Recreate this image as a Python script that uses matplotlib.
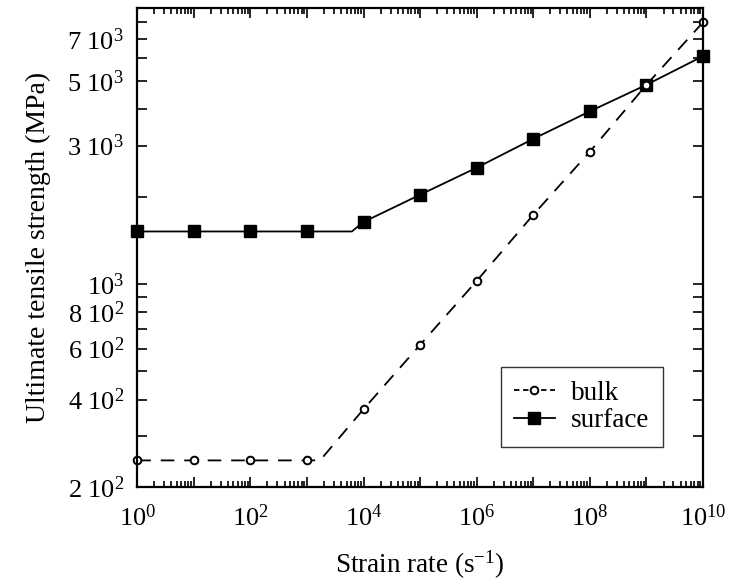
import numpy as np
import matplotlib
matplotlib.use("Agg")
import matplotlib.pyplot as plt
from matplotlib.ticker import FixedLocator, FixedFormatter, LogLocator, NullFormatter

plt.rcParams["font.family"] = ["Liberation Serif", "DejaVu Serif"]
plt.rcParams["mathtext.fontset"] = "custom"
plt.rcParams["mathtext.rm"] = "Liberation Serif"
plt.rcParams["mathtext.it"] = "Liberation Serif:italic"

# strain rate at each decade (1/s)
rate = [1e0, 1e1, 1e2, 1e3, 1e4, 1e5, 1e6, 1e7, 1e8, 1e9, 1e10]
bulk = [247, 247, 247, 247, 371, 618, 1026, 1734, 2860, 4860, 7980]
surface = [1518, 1518, 1518, 1518, 1637, 2032, 2518, 3165, 3937, 4860, 6100]

# strain rates where the rate-independent plateau ends
bulk_knee = 1.7e3
surface_knee = 6.2e3

ytick_vals = [200, 300, 400, 500, 600, 700, 800, 900,
              1000, 2000, 3000, 4000, 5000, 6000, 7000, 8000, 9000]
ytick_text = {200: "2 10$^2$", 400: "4 10$^2$", 600: "6 10$^2$", 800: "8 10$^2$",
              1000: "10$^3$", 3000: "3 10$^3$", 5000: "5 10$^3$", 7000: "7 10$^3$"}


def with_knee(x, y, knee):
    # plateau up to the knee, then the power-law branch through the points
    x = np.asarray(x, float)
    y = np.asarray(y, float)
    flat = y[0]
    xs = [xi for xi in x if xi < knee]
    ys = [flat] * len(xs)
    xs.append(knee)
    ys.append(flat)
    xs += list(x[x > knee])
    ys += list(y[x > knee])
    return xs, ys


fig = plt.figure(figsize=(7.31, 5.85), dpi=100)
ax = fig.add_axes([0.1878, 0.1675, 0.774, 0.818])

bx, by = with_knee(rate, bulk, bulk_knee)
sx, sy = with_knee(rate, surface, surface_knee)

ax.plot(bx, by, color="black", lw=1.3, ls=(0, (7.5, 5.5)))
ax.plot(sx, sy, color="black", lw=1.3)
ax.plot(rate, surface, ls="none", marker="s", ms=9, color="black", clip_on=False)
ax.plot(rate, bulk, ls="none", marker="o", ms=5.5, mfc="white", mec="black", mew=1.4,
        clip_on=False)

# legend proxies
ax.plot([], [], color="black", lw=1.3, ls=(0, (3, 2)), marker="o", ms=5.5,
        mfc="white", mec="black", mew=1.4, label="bulk")
ax.plot([], [], color="black", lw=1.3, marker="s", ms=8, label="surface")

ax.set_xscale("log")
ax.set_yscale("log")
ax.set_xlim(1e0, 1e10)
ax.set_ylim(200, 8900)

ax.xaxis.set_minor_locator(LogLocator(base=10, subs=np.arange(2, 10), numticks=20))
ax.xaxis.set_minor_formatter(NullFormatter())
ax.set_xticks([10.0 ** k for k in range(11)],
              labels=["10$^{%d}$" % k if k % 2 == 0 else "" for k in range(11)])

ax.yaxis.set_major_locator(FixedLocator(ytick_vals))
ax.yaxis.set_major_formatter(FixedFormatter([ytick_text.get(v, "") for v in ytick_vals]))
ax.yaxis.set_minor_locator(FixedLocator([]))

ax.tick_params(which="both", direction="in", top=True, right=True, width=1.2,
               labelsize=19, colors="black")
ax.tick_params(which="major", length=7)
ax.tick_params(which="minor", length=4)
ax.tick_params(axis="x", which="major", pad=12.5)
ax.tick_params(axis="y", which="major", pad=9.5)
for sp in ax.spines.values():
    sp.set_linewidth(1.6)

ax.set_xlabel("Strain rate (s$^{-1}$)", fontsize=19.5, labelpad=13)
ax.set_ylabel("Ultimate tensile strength (MPa)", fontsize=20, labelpad=12)

leg = ax.legend(loc="upper right", bbox_to_anchor=(0.929, 0.2508), fontsize=19.5,
                frameon=True, fancybox=False, edgecolor="black", handlelength=1.5,
                handletextpad=0.6, borderpad=0.5, labelspacing=0.1, borderaxespad=0)
leg.get_frame().set_linewidth(1.0)

fig.savefig("out.png", dpi=100)
